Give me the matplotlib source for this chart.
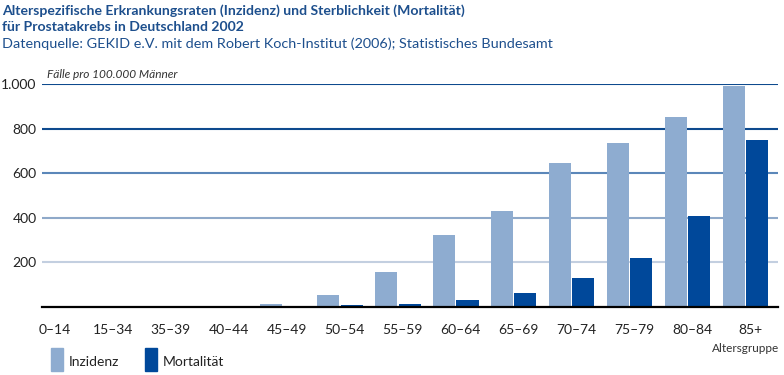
import matplotlib
matplotlib.use("Agg")
import matplotlib.pyplot as plt
from matplotlib.patches import Rectangle
import numpy as np

plt.rcParams['font.family'] = ['Lato', 'DejaVu Sans']

# data
age_groups = ['0–14', '15–34', '35–39', '40–44', '45–49', '50–54', '55–59',
              '60–64', '65–69', '70–74', '75–79', '80–84', '85+']
inzidenz = [0, 0, 0, 1, 14, 55, 159, 323, 432, 645, 736, 855, 992]
mortalitaet = [0, 0, 0, 0, 4, 10, 14, 32, 64, 132, 218, 409, 750]
yticks = [200, 400, 600, 800, 1000]
ytick_labels = ['200', '400', '600', '800', '1.000']
grid_colors = ['#c3cfe0', '#8fa9c9', '#5b87b9', '#0e4a8e', '#0e4a8e']

c_inz = '#8eacd0'
c_mort = '#00489a'
title_col = '#1d4f8d'

W, H = 784, 375
fig = plt.figure(figsize=(W / 100, H / 100), dpi=100)

def fx(px):
    return px / W

def fy(py):
    return 1 - py / H

ax = fig.add_axes([fx(42), fy(307), fx(778) - fx(42), fy(84.3) - fy(307)])

x = np.arange(len(age_groups))
bw = 0.38
ax.bar(x - bw / 2 - 0.01, inzidenz, bw, color=c_inz, zorder=3)
ax.bar(x + bw / 2 + 0.01, mortalitaet, bw, color=c_mort, zorder=3)

for yv, col in zip(yticks, grid_colors):
    ax.axhline(yv, color=col, lw=1.5, zorder=1)

ax.set_xlim(-0.145, 12.56)
ax.set_ylim(0, 1000)
for s in ['top', 'right', 'left']:
    ax.spines[s].set_visible(False)
ax.spines['bottom'].set_color('black')
ax.spines['bottom'].set_linewidth(1.6)
ax.spines['bottom'].set_zorder(4)
ax.set_yticks(yticks)
ax.set_yticklabels(ytick_labels, fontsize=10, color='#222222')
ax.set_xticks(x + 0.08)
ax.set_xticklabels(age_groups, fontsize=10, color='#222222')
ax.tick_params(axis='both', length=0)
ax.tick_params(axis='x', pad=12)
ax.tick_params(axis='y', pad=4)

# titles
fig.text(fx(2), fy(11), 'Alterspezifische Erkrankungsraten (Inzidenz) und Sterblichkeit (Mortalität)',
         fontsize=10.05, fontweight='bold', color=title_col, va='center', ha='left')
fig.text(fx(2), fy(27), 'für Prostatakrebs in Deutschland 2002',
         fontsize=10.05, fontweight='bold', color=title_col, va='center', ha='left')
fig.text(fx(2), fy(44), 'Datenquelle: GEKID e.V. mit dem Robert Koch-Institut (2006); Statistisches Bundesamt',
         fontsize=10.35, color=title_col, va='center', ha='left')

fig.text(fx(47), fy(74), 'Fälle pro 100.000 Männer', fontsize=8.6, style='italic',
         color='#333333', va='center', ha='left')
fig.text(fx(779), fy(349), 'Altersgruppe', fontsize=8.5, color='#333333',
         va='center', ha='right')

# legend
for px0, col, label in [(51, c_inz, 'Inzidenz'), (145, c_mort, 'Mortalität')]:
    fig.patches.append(Rectangle((fx(px0), fy(371)), fx(12), fy(348) - fy(371),
                                 transform=fig.transFigure, color=col))
    fig.text(fx(px0 + 18), fy(362), label, fontsize=10, color='#222222',
             va='center', ha='left')

fig.savefig('out.png', dpi=100)
